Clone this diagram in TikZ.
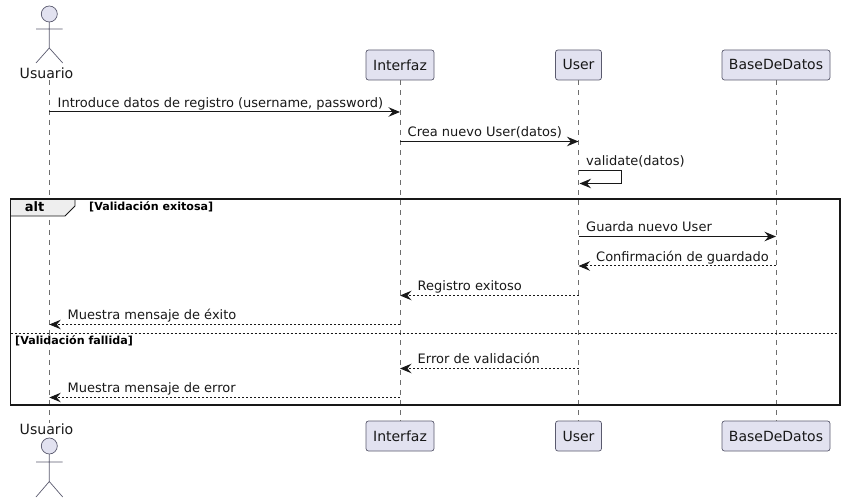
\documentclass[tikz,border=0pt]{standalone}
\usepackage{fontspec}
\setmainfont{DejaVu Sans}
\usetikzlibrary{arrows.meta}
\definecolor{pfill}{HTML}{E2E2F0}
\definecolor{pline}{HTML}{5A5A6E}
\definecolor{life}{HTML}{6E6E6E}
\definecolor{ink}{HTML}{181818}
\definecolor{tabfill}{HTML}{EEEEEE}
\tikzset{
  x=1pt,y=-1pt,
  part/.style={draw=pline,fill=pfill,rounded corners=2.5pt,line width=.7pt,minimum height=30pt,inner sep=0pt,text=ink,font=\fontsize{14}{16}\selectfont},
  actorname/.style={inner sep=0pt,text=ink,font=\fontsize{14.1}{16}\selectfont},
  lifeline/.style={draw=life,line width=.6pt,dash pattern=on 5pt off 5pt},
  msg/.style={draw=ink,line width=1pt,-{Stealth[length=11.5pt,width=9.5pt,inset=4pt]}},
  reply/.style={msg,dash pattern=on 2pt off 2pt},
  msgtext/.style={anchor=base west,inner sep=0pt,text=ink,font=\fontsize{13}{15}\selectfont},
  guard/.style={anchor=base west,inner sep=0pt,text=black,font=\fontsize{11.1}{13}\bfseries\selectfont},
  stick/.style={draw=pline,line width=.7pt},
  head/.style={stick,fill=pfill}
}
\begin{document}
\begin{tikzpicture}
\useasboundingbox (0,0) rectangle (846,502);
% lifeline end points
\coordinate (ut) at (49.3,80);
\coordinate (ub) at (49.3,423);
\node[part,minimum width=68pt] (it) at (400,65) {Interfaz};
\node[part,minimum width=46pt] (st) at (578.5,65) {User};
\node[part,minimum width=108pt] (bt) at (776,65) {BaseDeDatos};
\node[part,minimum width=68pt] (ib) at (400,436) {Interfaz};
\node[part,minimum width=46pt] (sb) at (578.5,436) {User};
\node[part,minimum width=108pt] (bb) at (776,436) {BaseDeDatos};
\draw[lifeline] (ut) -- (ub);
\draw[lifeline] (it.south) -- (ib.north);
\draw[lifeline] (st.south) -- (sb.north);
\draw[lifeline] (bt.south) -- (bb.north);
% actors
\draw[head] (49.3,14) circle (8);
\draw[stick] (49.3,22) -- (49.3,48) (36,29) -- (62.7,29) (36,63) -- (49.3,48) -- (62.7,63);
\node[actorname] (uta) at (46.5,73) {Usuario};
\draw[head] (49.3,446) circle (8);
\draw[stick] (49.3,454) -- (49.3,481.5) (36,462) -- (62.7,462) (36,497) -- (49.3,481.5) -- (62.7,497);
\node[actorname] (uba) at (46.5,429) {Usuario};
% frame
\draw[fill=tabfill,draw=ink,line width=.9pt] (10.5,199) -- (75,199) -- (75,206) -- (65,216) -- (10.5,216) -- cycle;
\node[inner sep=0pt,text=black,font=\fontsize{13}{15}\bfseries\selectfont] (alt) at (34.5,207) {alt};
\node[guard] (g1) at (89,211) {[Validación exitosa]};
\draw[draw=ink,line width=1.5pt] (10.5,199) rectangle (840,405);
\coordinate (el) at (10.5,333);
\coordinate (er) at (840,333);
\draw[draw=ink,line width=.9pt,dash pattern=on 2pt off 2pt] (el) -- (er);
\node[guard] (g2) at (15,344.5) {[Validación fallida]};
% messages
\foreach \n/\y in {1/112,2/141.5,4/236.5,5/266,6/295.5,7/324.5,8/368.5,9/397.5}{\coordinate (m\n) at (0,\y);}
\draw[msg] (ut |- m1) -- (it |- m1);
\node[msgtext] (t1) at (57.5,107.5) {Introduce datos de registro (username, password)};
\draw[msg] (it |- m2) -- (st |- m2);
\node[msgtext] (t2) at (407.5,137) {Crea nuevo User(datos)};
\coordinate (sa) at (578.5,170.5);
\coordinate (sc) at (621.5,170.5);
\coordinate (sd) at (621.5,183.5);
\coordinate (se) at (579.5,183.5);
\draw[msg] (sa) -- (sc) -- (sd) -- (se);
\node[msgtext] (t3) at (586,166) {validate(datos)};
\draw[msg] (st |- m4) -- (bt |- m4);
\node[msgtext] (t4) at (586,232) {Guarda nuevo User};
\draw[reply] (bt |- m5) -- (st |- m5);
\node[msgtext] (t5) at (596,261.5) {Confirmación de guardado};
\draw[reply] (st |- m6) -- (it |- m6);
\node[msgtext] (t6) at (417.5,290.5) {Registro exitoso};
\draw[reply] (it |- m7) -- (ut |- m7);
\node[msgtext] (t7) at (67.5,319.5) {Muestra mensaje de éxito};
\draw[reply] (st |- m8) -- (it |- m8);
\node[msgtext] (t8) at (417.5,363.5) {Error de validación};
\draw[reply] (it |- m9) -- (ut |- m9);
\node[msgtext] (t9) at (67.5,392.5) {Muestra mensaje de error};
\end{tikzpicture}
\end{document}
